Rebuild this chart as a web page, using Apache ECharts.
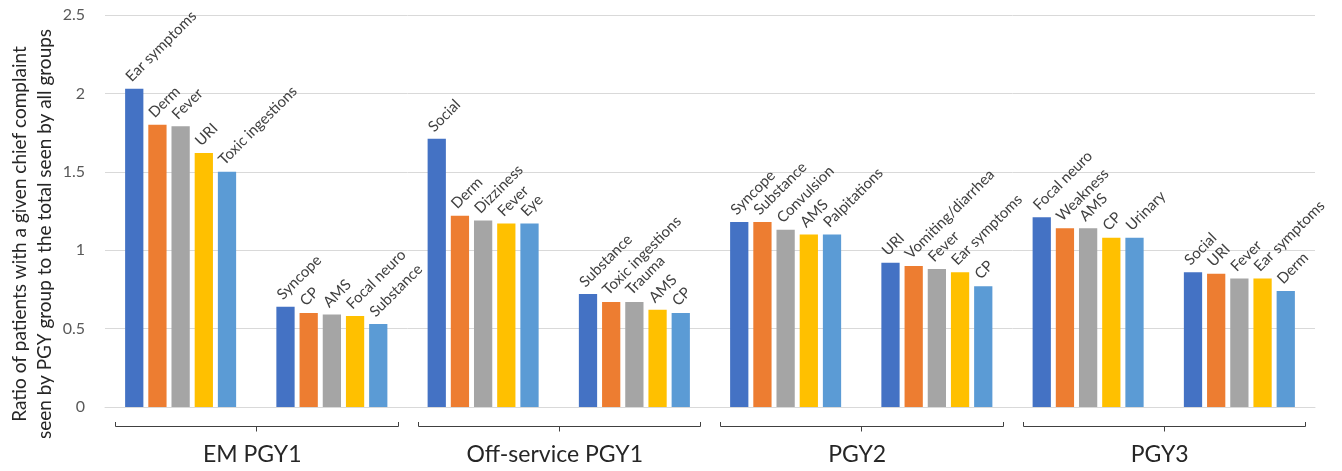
<!DOCTYPE html>
<html>
<head>
<meta charset="utf-8">
<script src="https://cdn.jsdelivr.net/npm/echarts@6/dist/echarts.min.js"></script>
<style>
  html, body { margin: 0; padding: 0; background: #fff; }
  #chart { width: 1342px; height: 471px; }
</style>
</head>
<body>
<div id="chart"></div>
<script>
// clusters of five bars, two per PGY group
const groups = ["EM PGY1", "Off-service PGY1", "PGY2", "PGY3"];
const categories = ["EM PGY1 high", "EM PGY1 low", "Off-service high", "Off-service low",
                    "PGY2 high", "PGY2 low", "PGY3 high", "PGY3 low"];
const complaints = [
  ["Ear symptoms", "Derm", "Fever", "URI", "Toxic ingestions"],
  ["Syncope", "CP", "AMS", "Focal neuro", "Substance"],
  ["Social", "Derm", "Dizziness", "Fever", "Eye"],
  ["Substance", "Toxic ingestions", "Trauma", "AMS", "CP"],
  ["Syncope", "Substance", "Convulsion", "AMS", "Palpitations"],
  ["URI", "Vomiting/diarrhea", "Fever", "Ear symptoms", "CP"],
  ["Focal neuro", "Weakness", "AMS", "CP", "Urinary"],
  ["Social", "URI", "Fever", "Ear symptoms", "Derm"]
];
const ratios = [
  [2.03, 1.80, 1.79, 1.62, 1.50],
  [0.64, 0.60, 0.59, 0.58, 0.53],
  [1.71, 1.22, 1.19, 1.17, 1.17],
  [0.72, 0.67, 0.67, 0.62, 0.60],
  [1.18, 1.18, 1.13, 1.10, 1.10],
  [0.92, 0.90, 0.88, 0.86, 0.77],
  [1.21, 1.14, 1.14, 1.08, 1.08],
  [0.86, 0.85, 0.82, 0.82, 0.74]
];
const yTicks = [0, 0.5, 1, 1.5, 2, 2.5];
const colors = ["#4472C4", "#ED7D31", "#A5A5A5", "#FFC000", "#5B9BD5"];

const font = "Lato";

const series = colors.map(function (c, i) {
  return {
    type: "bar",
    name: "rank " + (i + 1),
    data: ratios.map(function (r) { return r[i]; }),
    itemStyle: { color: c },
    barGap: "27%",
    barCategoryGap: "26.6%",
    label: {
      show: true,
      position: "top",
      distance: 5,
      rotate: 45,
      align: "left",
      verticalAlign: "bottom",
      offset: [-1, 0],
      fontFamily: font,
      fontSize: 15,
      color: "#404040",
      formatter: function (p) { return complaints[p.dataIndex][p.seriesIndex]; }
    }
  };
});

// brackets with the group names, one per pair of clusters
series.push({
  type: "custom",
  xAxisIndex: 1,
  yAxisIndex: 0,
  clip: false,
  silent: true,
  data: groups.map(function (g, i) { return [i, 0]; }),
  renderItem: function (params, api) {
    const p = api.coord([api.value(0), 0]);
    const half = api.size([1, 0])[0] / 2 - 10;
    const x = Math.round(p[0]) + 0.5;
    const y = Math.round(p[1]);
    const x1 = Math.round(p[0] - half) + 0.5;
    const x2 = Math.round(p[0] + half) + 0.5;
    return {
      type: "group",
      children: [
        {
          type: "polyline",
          shape: { points: [[x1, y + 15], [x1, y + 19.5], [x2, y + 19.5], [x2, y + 15]] },
          style: { stroke: "#404040", lineWidth: 1, fill: null }
        },
        {
          type: "line",
          shape: { x1: x, y1: y + 19.5, x2: x, y2: y + 24.5 },
          style: { stroke: "#404040", lineWidth: 1 }
        },
        {
          type: "text",
          x: p[0] - 4, y: y + 48,
          style: {
            text: groups[params.dataIndex], fontFamily: font, fontSize: 23, fill: "#262626",
            textAlign: "center", textVerticalAlign: "middle"
          }
        }
      ]
    };
  }
});

const option = {
  animation: false,
  grid: { left: 105, right: 27, top: 15, bottom: 64 },
  xAxis: [
    {
      type: "category",
      data: categories,
      axisLine: { lineStyle: { color: "#d9d9d9" } },
      axisTick: { show: false },
      axisLabel: { show: false }
    },
    {
      type: "category",
      data: groups,
      show: false
    }
  ],
  yAxis: {
    type: "value",
    min: yTicks[0],
    max: yTicks[yTicks.length - 1],
    interval: 0.5,
    axisLine: { show: false },
    axisTick: { show: false },
    splitLine: { lineStyle: { color: "#d9d9d9" } },
    axisLabel: { fontFamily: font, fontSize: 16, color: "#595959", margin: 20 }
  },
  graphic: [{
    type: "text",
    x: 32, y: 234,
    rotation: Math.PI / 2,
    style: {
      text: "Ratio of patients with a given chief complaint\nseen by PGY group to the total seen by all groups",
      fontFamily: font, fontSize: 19, lineHeight: 25, fill: "#262626",
      textAlign: "center", textVerticalAlign: "middle"
    }
  }],
  series: series
};

const myChart = echarts.init(document.getElementById("chart"));
myChart.setOption(option);
</script>
</body>
</html>
